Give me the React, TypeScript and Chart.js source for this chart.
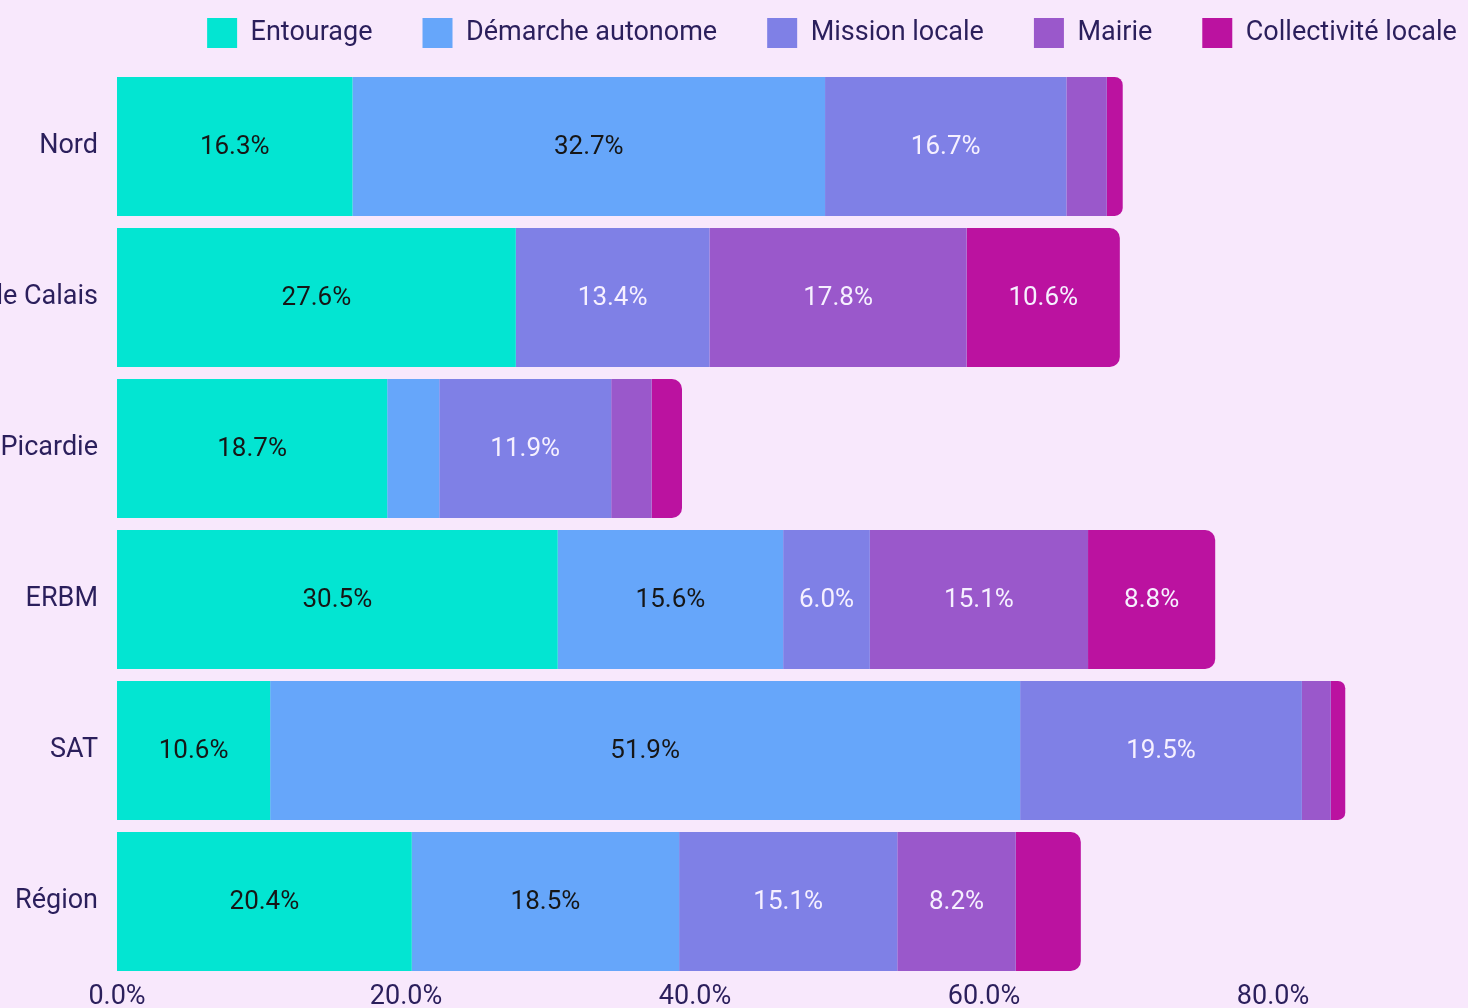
import React, { useEffect, useRef } from "react";
import { Chart, registerables } from "chart.js";

Chart.register(...registerables);

// ---- Data ----
const categories = ["Nord", "Pas de Calais", "Picardie", "ERBM", "SAT", "Région"];
const seriesNames = ["Entourage", "Démarche autonome", "Mission locale", "Mairie", "Collectivité locale"];
const entourage = [16.3, 27.6, 18.7, 30.5, 10.6, 20.4];
const demarcheAutonome = [32.7, 0, 3.6, 15.6, 51.9, 18.5];
const missionLocale = [16.7, 13.4, 11.9, 6.0, 19.5, 15.1];
const mairie = [2.8, 17.8, 2.8, 15.1, 2.0, 8.2];
const collectiviteLocale = [1.1, 10.6, 2.1, 8.8, 1.0, 4.5];
const xTickValues = [0, 20, 40, 60, 80, 100];

// ---- Styles ----
const seriesColors = ["#03e5d2", "#66a6fa", "#7f80e6", "#9a58cb", "#bb12a0"];
const valueLabelColors = ["#161616", "#161616", "#f6f0ff", "#f6f0ff", "#f6f0ff"];
const textColor = "#2b1f5c";
const bgColor = "#f8e8fc";
const FONT = "Roboto";
const LEGEND_OFFSET = 102;

const backgroundPlugin = {
  id: "bgFill",
  beforeDraw(chart: any) {
    const ctx = chart.ctx;
    ctx.save();
    ctx.fillStyle = bgColor;
    ctx.fillRect(0, 0, chart.width, chart.height);
    ctx.restore();
    if (chart.legend) {
      chart.legend.left = LEGEND_OFFSET;
    }
  },
};

const valueLabelsPlugin = {
  id: "valueLabels",
  afterDatasetsDraw(chart: any) {
    const ctx = chart.ctx;
    chart.data.datasets.forEach((ds: any, i: number) => {
      const meta = chart.getDatasetMeta(i);
      meta.data.forEach((bar: any, j: number) => {
        const v = ds.data[j];
        if (v == null || v < 5) return;
        const { x, y, base } = bar.getProps(["x", "y", "base"], true);
        ctx.save();
        ctx.font = `26px ${FONT}`;
        ctx.fillStyle = valueLabelColors[i];
        ctx.textAlign = "center";
        ctx.textBaseline = "middle";
        ctx.fillText(v.toFixed(1) + "%", (x + base) / 2, y + 1);
        ctx.restore();
      });
    });
  },
};

export default function App() {
  const canvasRef = useRef<HTMLCanvasElement | null>(null);

  useEffect(() => {
    let chart: Chart | null = null;
    let cancelled = false;
    const build = () => {
      if (cancelled || !canvasRef.current) return;
      const seriesData = [entourage, demarcheAutonome, missionLocale, mairie, collectiviteLocale];
      chart = new Chart(canvasRef.current, {
        type: "bar",
        data: {
          labels: categories,
          datasets: seriesNames.map((name, i) => ({
            label: name,
            data: seriesData[i],
            backgroundColor: seriesColors[i],
            borderWidth: 0,
            borderRadius: 10,
            categoryPercentage: 0.92,
            barPercentage: 1,
          })),
        },
        options: {
          indexAxis: "y",
          responsive: false,
          animation: false,
          layout: { padding: { top: -32, left: 0, right: 58, bottom: -10 } },
          plugins: {
            legend: {
              position: "top",
              labels: {
                boxWidth: 30,
                boxHeight: 30,
                padding: 50,
                color: textColor,
                font: { size: 27, family: FONT },
              },
            },
            title: {
              display: true,
              text: " ",
              position: "top",
              weight: 500,
              font: { size: 1, lineHeight: 1 },
              padding: { top: 6, bottom: 6 },
            },
            tooltip: { enabled: false },
          },
          scales: {
            x: {
              stacked: true,
              min: 0,
              max: 100,
              afterBuildTicks: (scale: any) => {
                scale.ticks = xTickValues.map((v) => ({ value: v }));
              },
              ticks: {
                color: textColor,
                font: { size: 27, family: FONT, lineHeight: 1.15 },
                padding: 5,
                callback: (v: any) => Number(v).toFixed(1) + "%",
              },
              grid: { display: false, drawTicks: false },
              border: { display: false },
            },
            y: {
              stacked: true,
              ticks: {
                color: textColor,
                font: { size: 27, family: FONT },
                padding: 19,
              },
              grid: { display: false, drawTicks: false },
              border: { display: false },
              afterFit: (scale: any) => {
                scale.width = 117;
                scale.paddingTop = 0;
                scale.paddingBottom = 0;
              },
            },
          },
        },
        plugins: [backgroundPlugin, valueLabelsPlugin],
      } as any);
    };
    if ((document as any).fonts && (document as any).fonts.load) {
      (document as any).fonts.load(`27px ${FONT}`).then(build, build);
    } else {
      build();
    }
    return () => {
      cancelled = true;
      if (chart) chart.destroy();
    };
  }, []);

  return (
    <div
      style={{
        position: "fixed",
        left: 0,
        top: 0,
        width: 1468,
        height: 1008,
        overflow: "hidden",
        background: bgColor,
      }}
    >
      <canvas ref={canvasRef} width={1620} height={1008} style={{ display: "block" }} />
    </div>
  );
}
